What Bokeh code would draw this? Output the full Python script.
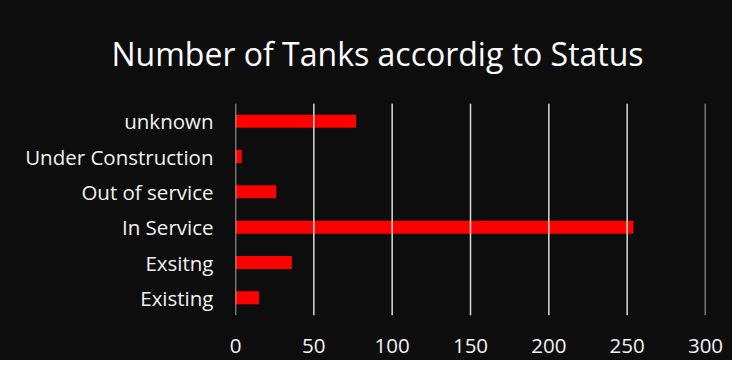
from bokeh.plotting import figure
from bokeh.models import ColumnDataSource, FactorRange, Range1d, FixedTicker, Span
from bokeh.embed import file_html
from bokeh.resources import INLINE

categories = ["Existing", "Exsitng", "In Service", "Out of service", "Under Construction", "unknown"]
values = [15, 36, 254, 26, 4, 77]
x_ticks = [0, 50, 100, 150, 200, 250, 300]
title_text = "Number of Tanks accordig to Status"

BG = "#0d0d0d"
FONT = "Open Sans"

source = ColumnDataSource(data=dict(cat=categories, val=values))

p = figure(
    width=732, height=360,
    y_range=FactorRange(*categories, range_padding=0),
    x_range=Range1d(0, 300),
    output_backend="svg", toolbar_location=None,
    min_border_left=235, min_border_right=27,
    min_border_top=102, min_border_bottom=45,
)
p.title.text = title_text
p.title.align = "left"
p.title.offset = -124
p.title.text_font = FONT
p.title.text_font_style = "normal"
p.title.text_font_size = "32px"
p.title.text_color = "#ffffff"
p.title.standoff = 58

# vertical gridlines at the tick values
for t in x_ticks:
    p.add_layout(Span(location=t, dimension="height",
                      line_color="#d9d9d9", line_width=1.5))

p.hbar(y="cat", right="val", left=0, height=0.37, source=source,
       fill_color="#ff0000", line_color=None)

p.background_fill_color = BG
p.border_fill_color = None
p.styles = {"background-color": BG}
p.outline_line_color = None

p.xgrid.visible = False
p.ygrid.visible = False

p.xaxis.ticker = FixedTicker(ticks=x_ticks)
p.xaxis.axis_line_color = None
p.xaxis.major_tick_line_color = None
p.xaxis.minor_tick_line_color = None
p.xaxis.major_tick_out = 0
p.xaxis.minor_tick_out = 0
p.xaxis.major_label_text_font = FONT
p.xaxis.major_label_text_font_size = "20.5px"
p.xaxis.major_label_text_color = "#f2f2f2"
p.xaxis.major_label_standoff = 23

p.yaxis.axis_line_color = None
p.yaxis.major_tick_line_color = None
p.yaxis.minor_tick_line_color = None
p.yaxis.major_tick_out = 0
p.yaxis.minor_tick_out = 0
p.yaxis.major_label_text_font = FONT
p.yaxis.major_label_text_font_size = "20.5px"
p.yaxis.major_label_text_color = "#f2f2f2"
p.yaxis.major_label_standoff = 22

open("out.html", "w").write(file_html(p, INLINE))
